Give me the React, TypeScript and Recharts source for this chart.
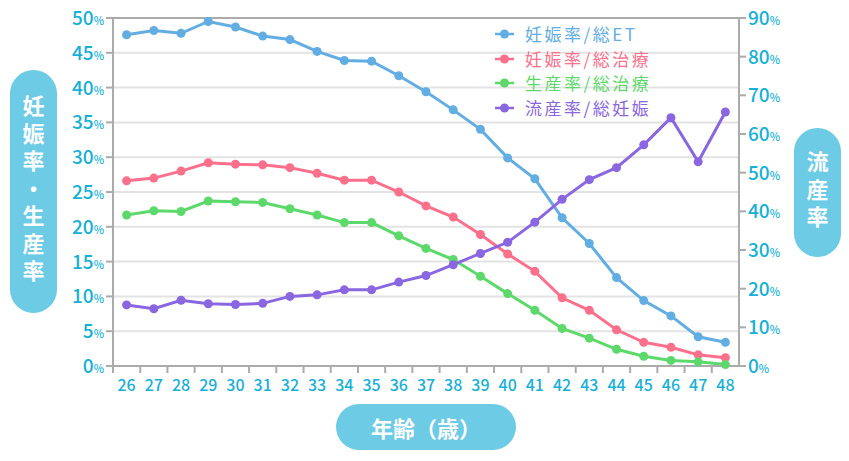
import React from 'react';
import {
  LineChart,
  Line,
  XAxis,
  YAxis,
  CartesianGrid,
  Legend,
  ReferenceLine,
} from 'recharts';

const ages = ['26', '27', '28', '29', '30', '31', '32', '33', '34', '35', '36', '37', '38', '39', '40', '41', '42', '43', '44', '45', '46', '47', '48'];

// 妊娠率/総ET (left axis, %)
const pregnancyPerEt = [47.6, 48.2, 47.8, 49.5, 48.7, 47.4, 46.9, 45.2, 43.9, 43.8, 41.7, 39.4, 36.8, 34.0, 29.9, 26.9, 21.3, 17.6, 12.7, 9.4, 7.2, 4.2, 3.4];
// 妊娠率/総治療 (left axis, %)
const pregnancyPerTreatment = [26.6, 27.0, 28.0, 29.2, 29.0, 28.9, 28.5, 27.7, 26.7, 26.7, 25.0, 23.0, 21.4, 18.9, 16.1, 13.6, 9.8, 8.0, 5.2, 3.4, 2.7, 1.6, 1.2];
// 生産率/総治療 (left axis, %)
const birthPerTreatment = [21.7, 22.3, 22.2, 23.7, 23.6, 23.5, 22.6, 21.7, 20.6, 20.6, 18.7, 16.9, 15.3, 12.9, 10.4, 8.0, 5.4, 4.0, 2.4, 1.4, 0.8, 0.6, 0.2];
// 流産率/総妊娠 (right axis, %)
const miscarriagePerPregnancy = [15.8, 14.8, 17.0, 16.1, 15.9, 16.2, 18.0, 18.4, 19.7, 19.7, 21.7, 23.4, 26.2, 29.1, 32.0, 37.2, 43.1, 48.2, 51.3, 57.2, 64.2, 52.8, 65.7];

const leftTicks = [0, 5, 10, 15, 20, 25, 30, 35, 40, 45, 50];
const rightTicks = [0, 10, 20, 30, 40, 50, 60, 70, 80, 90];

const series = [
  { key: 'et', name: '妊娠率/総ET', color: '#62ade2', axis: 'left', values: pregnancyPerEt },
  { key: 'preg', name: '妊娠率/総治療', color: '#fd708c', axis: 'left', values: pregnancyPerTreatment },
  { key: 'birth', name: '生産率/総治療', color: '#5dd96b', axis: 'left', values: birthPerTreatment },
  { key: 'mis', name: '流産率/総妊娠', color: '#8a66e0', axis: 'right', values: miscarriagePerPregnancy },
];

const data = ages.map((age, i) => {
  const row: Record<string, string | number> = { age };
  series.forEach((s) => {
    row[s.key] = s.values[i];
  });
  return row;
});

const FONT = '"Noto Sans CJK JP", "Noto Sans", sans-serif';
const TICK_COLOR = '#17b0d6';
const AXIS_COLOR = '#ababab';
const PILL_COLOR = '#6dcbe5';
const PLOT_LEFT = 113;
const PLOT_RIGHT = 739;
const HALF_BAND = (PLOT_RIGHT - PLOT_LEFT) / ages.length / 2;

const LeftTick = (props: any) => {
  const { x, y, payload } = props;
  return (
    <text x={x} y={y + 7} textAnchor="end" fill={TICK_COLOR} fontFamily={FONT} fontWeight={500}>
      <tspan fontSize={19}>{payload.value}</tspan>
      <tspan fontSize={11}>%</tspan>
    </text>
  );
};

const RightTick = (props: any) => {
  const { x, y, payload } = props;
  return (
    <text x={x} y={y + 7} textAnchor="start" fill={TICK_COLOR} fontFamily={FONT} fontWeight={500}>
      <tspan fontSize={19}>{payload.value}</tspan>
      <tspan fontSize={11}>%</tspan>
    </text>
  );
};

// tick marks sit on the category boundaries, labels at the centres
const AgeTick = (props: any) => {
  const { x, y, payload } = props;
  return (
    <g>
      <line x1={x - HALF_BAND} x2={x - HALF_BAND} y1={y} y2={y + 7} stroke={AXIS_COLOR} strokeWidth={2} />
      <text x={x} y={y + 25} textAnchor="middle" fill={TICK_COLOR} fontFamily={FONT} fontSize={16} fontWeight={500}>
        {payload.value}
      </text>
    </g>
  );
};

const renderLegend = () => (
  <div style={{ fontFamily: FONT }}>
    {series.map((s) => (
      <div key={s.key} style={{ display: 'flex', alignItems: 'center', height: 24.5 }}>
        <svg width={28} height={12} style={{ marginRight: 3 }}>
          <line x1={1} x2={20} y1={6} y2={6} stroke={s.color} strokeWidth={2.5} />
          <circle cx={10.5} cy={6} r={4.5} fill={s.color} />
        </svg>
        <span style={{ color: s.color, fontSize: 17, letterSpacing: 2.5, lineHeight: '24px' }}>{s.name}</span>
      </div>
    ))}
  </div>
);

const pill: React.CSSProperties = {
  position: 'absolute',
  background: PILL_COLOR,
  color: '#fff',
  fontFamily: FONT,
  fontWeight: 700,
  fontSize: 22,
  display: 'flex',
  alignItems: 'center',
  justifyContent: 'center',
};

const VerticalLabel = ({ text, style }: { text: string; style: React.CSSProperties }) => (
  <div style={{ ...pill, ...style }}>
    <span style={{ writingMode: 'vertical-rl', letterSpacing: 5.5, lineHeight: '24px' }}>{text}</span>
  </div>
);

export default function App() {
  return (
    <div style={{ position: 'absolute', left: 0, top: 0, width: 849, height: 461, background: '#fff', fontFamily: FONT }}>
      <LineChart width={849} height={461} data={data} margin={{ top: 18, right: 0, bottom: 0, left: 0 }}>
        <CartesianGrid vertical={false} stroke="#e3e3e3" strokeWidth={2} yAxisId="left" />
        <XAxis
          dataKey="age"
          scale="band"
          height={95}
          axisLine={{ stroke: AXIS_COLOR, strokeWidth: 2 }}
          tickLine={false}
          tickSize={0}
          tickMargin={0}
          interval={0}
          tick={<AgeTick />}
        />
        <YAxis
          yAxisId="left"
          width={PLOT_LEFT}
          domain={[0, 50]}
          ticks={leftTicks}
          interval={0}
          axisLine={{ stroke: AXIS_COLOR, strokeWidth: 2 }}
          tickLine={{ stroke: AXIS_COLOR, strokeWidth: 2 }}
          tickSize={7}
          tickMargin={2}
          tick={<LeftTick />}
        />
        <YAxis
          yAxisId="right"
          orientation="right"
          width={849 - PLOT_RIGHT}
          domain={[0, 90]}
          ticks={rightTicks}
          interval={0}
          axisLine={{ stroke: AXIS_COLOR, strokeWidth: 2 }}
          tickLine={{ stroke: AXIS_COLOR, strokeWidth: 2 }}
          tickSize={7}
          tickMargin={2}
          tick={<RightTick />}
        />
        <ReferenceLine yAxisId="left" y={50} stroke={AXIS_COLOR} strokeWidth={2} />
        <Legend
          layout="vertical"
          align="center"
          verticalAlign="middle"
          wrapperStyle={{ top: 22, left: 494, width: 220 }}
          content={renderLegend}
        />
        {series.map((s) => (
          <Line
            key={s.key}
            yAxisId={s.axis}
            dataKey={s.key}
            name={s.name}
            stroke={s.color}
            strokeWidth={3}
            dot={{ r: 4.5, fill: s.color, stroke: s.color, strokeWidth: 0 }}
            activeDot={false}
            isAnimationActive={false}
          />
        ))}
      </LineChart>
      <VerticalLabel text="妊娠率・生産率" style={{ left: 10, top: 70, width: 47, height: 243, borderRadius: 24 }} />
      <VerticalLabel text="流産率" style={{ left: 794, top: 128, width: 47, height: 129, borderRadius: 24 }} />
      <div style={{ ...pill, left: 336, top: 404, width: 180, height: 46, borderRadius: 23 }}>年齢（歳）</div>
    </div>
  );
}
